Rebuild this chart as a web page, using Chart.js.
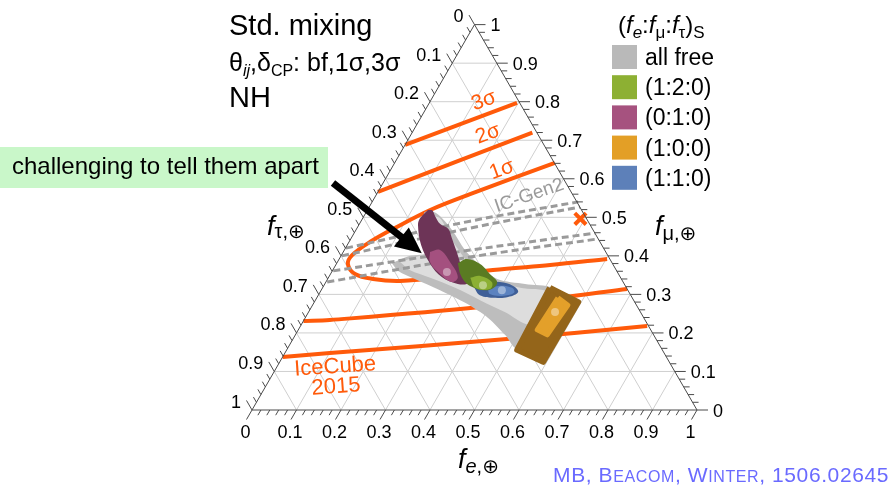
<!DOCTYPE html>
<html>
<head>
<meta charset="utf-8">
<script src="https://cdn.jsdelivr.net/npm/chart.js@4.4.0/dist/chart.umd.min.js"></script>
<style>
  html, body { margin: 0; padding: 0; background: #fff; }
  #wrap { width: 892px; height: 486px; }
</style>
</head>
<body>
<div id="wrap"><canvas id="ternary" width="892" height="486"></canvas></div>
<script>
// every point is [f_e, f_mu]; f_tau = 1 - f_e - f_mu
const tickValues = [0, 0.1, 0.2, 0.3, 0.4, 0.5, 0.6, 0.7, 0.8, 0.9, 1];
const tickLabels = ['0', '0.1', '0.2', '0.3', '0.4', '0.5', '0.6', '0.7', '0.8', '0.9', '1'];

// IceCube 2015 contours
const ic1Sigma = [[0.36, 0.641], [0.21, 0.56], [0.141, 0.519], [0.088, 0.475], [0.047, 0.436], [0.024, 0.402],
  [0.026, 0.379], [0.055, 0.353], [0.102, 0.34], [0.165, 0.335], [0.26, 0.345], [0.36, 0.363], [0.482, 0.376], [0.602, 0.392]];
const ic2SigmaUpper = [[0, 0.566], [0.27, 0.72]];
const ic2SigmaLower = [[0, 0.231], [0.058, 0.2335], [0.379, 0.267], [0.686, 0.314]];
const ic3SigmaUpper = [[0, 0.688], [0.197, 0.797]];
const ic3SigmaLower = [[0, 0.1375], [0.101, 0.148], [0.481, 0.184], [0.779, 0.218]];

// IceCube-Gen2 projection (dashed)
const gen2UpperA = [[0.001, 0.42], [0.245, 0.49], [0.463, 0.54]];
const gen2UpperB = [[0.002, 0.4], [0.254, 0.472], [0.474, 0.527]];
const gen2LowerA = [[0.002, 0.361], [0.283, 0.415], [0.541, 0.459]];
const gen2LowerB = [[0.003, 0.332], [0.292, 0.397], [0.556, 0.444]];

// flavour regions at Earth (outer = 3 sigma, inner = 1 sigma)
const allFreeOuter = [[0.124, 0.381], [0.155, 0.4], [0.19, 0.41], [0.131, 0.511], [0.158, 0.511], [0.216, 0.467],
  [0.271, 0.415], [0.326, 0.374], [0.381, 0.34], [0.45, 0.327], [0.516, 0.317], [0.538, 0.285], [0.556, 0.182],
  [0.52, 0.156], [0.471, 0.195], [0.411, 0.239], [0.34, 0.278], [0.267, 0.311], [0.196, 0.34], [0.148, 0.361]];
const allFreeInner = [[0.141, 0.384], [0.178, 0.4], [0.201, 0.407], [0.151, 0.498], [0.173, 0.498], [0.229, 0.441],
  [0.293, 0.384], [0.351, 0.345], [0.444, 0.317], [0.512, 0.306], [0.529, 0.26], [0.514, 0.221], [0.441, 0.254],
  [0.37, 0.285], [0.298, 0.317], [0.229, 0.343], [0.173, 0.363]];
const mu010Outer = [[0.136, 0.519], [0.129, 0.498], [0.133, 0.48], [0.166, 0.428], [0.211, 0.379], [0.254, 0.345],
  [0.299, 0.327], [0.321, 0.33], [0.288, 0.368], [0.251, 0.415], [0.226, 0.446], [0.206, 0.47], [0.181, 0.483],
  [0.16, 0.503], [0.146, 0.518]];
const mu010Inner = [[0.195, 0.41], [0.215, 0.415], [0.253, 0.384], [0.29, 0.345], [0.283, 0.332], [0.239, 0.358], [0.208, 0.384]];
const pion120Outer = [[0.272, 0.381], [0.287, 0.392], [0.323, 0.379], [0.358, 0.353], [0.386, 0.33], [0.375, 0.311], [0.329, 0.322], [0.296, 0.348]];
const pion120Inner = [[0.319, 0.343], [0.339, 0.348], [0.373, 0.332], [0.378, 0.314], [0.343, 0.317]];
const mixed110Outer = [[0.341, 0.317], [0.359, 0.33], [0.391, 0.332], [0.426, 0.322], [0.445, 0.306], [0.429, 0.293], [0.401, 0.291], [0.363, 0.298]];
const mixed110Inner = [[0.375, 0.311], [0.392, 0.322], [0.426, 0.317], [0.437, 0.304], [0.414, 0.296], [0.384, 0.301]];
const neutron100Outer = [[0.511, 0.317], [0.593, 0.28], [0.592, 0.125], [0.518, 0.156]];
const neutron100Inner = [[0.542, 0.291], [0.574, 0.272], [0.566, 0.195], [0.537, 0.208]];

// best-fit points: (0:1:0), (1:2:0), (1:1:0), (1:0:0)
const bestFit = [[0.259, 0.358], [0.357, 0.324], [0.406, 0.311], [0.554, 0.254]];
const marker010 = [[0.49, 0.496]];

const legendNames = ['all free', '(1:2:0)', '(0:1:0)', '(1:0:0)', '(1:1:0)'];
const legendColors = ['#b9b9b9', '#8db033', '#a6527f', '#e39f26', '#5d80b9'];

const ORANGE = '#ff5a0a';
const FONT = "'Liberation Sans', Arial, 'DejaVu Sans', sans-serif";
const SQ3 = Math.sqrt(3) / 2;

function toXY(p) { return { x: p[0] + p[1] / 2, y: p[1] * SQ3 }; }

function curve(pts, color, width, dash) {
    return {
        data: pts.map(toXY), showLine: true, borderColor: color, borderWidth: width,
        borderDash: dash || [], pointRadius: 0, fill: false, tension: 0.35, borderCapStyle: 'butt'
    };
}

function area(pts, color, tension, edge) {
    return {
        data: pts.concat([pts[0]]).map(toXY), showLine: true, borderColor: color, borderWidth: edge || 0,
        borderJoinStyle: 'round', backgroundColor: color, pointRadius: 0, fill: 'shape', tension: tension
    };
}

// back to front
const datasets = [
    curve(ic1Sigma, ORANGE, 4),
    curve(ic2SigmaUpper, ORANGE, 4), curve(ic2SigmaLower, ORANGE, 4),
    curve(ic3SigmaUpper, ORANGE, 4), curve(ic3SigmaLower, ORANGE, 4),
    area(allFreeOuter, '#bdbdbd', 0.3),
    area(allFreeInner, '#dddddd', 0.3),
    curve(gen2UpperA, '#9a9a9a', 3, [7, 4]), curve(gen2UpperB, '#9a9a9a', 3, [7, 4]),
    curve(gen2LowerA, '#9a9a9a', 3, [7, 4]), curve(gen2LowerB, '#9a9a9a', 3, [7, 4]),
    area(mu010Outer, '#6d3457', 0.35),
    area(mu010Inner, '#a4507f', 0.4),
    area(mixed110Outer, '#3f5f97', 0.4),
    area(mixed110Inner, '#5b82bf', 0.4),
    area(pion120Outer, '#5a7b22', 0.4),
    area(pion120Inner, '#8cb033', 0.4),
    area(neutron100Outer, '#94651a', 0, 6),
    area(neutron100Inner, '#e3a02a', 0, 5),
    {
        data: bestFit.map(toXY), showLine: false, pointRadius: 4, borderWidth: 0,
        pointBackgroundColor: 'rgba(255,255,255,0.4)'
    },
    {
        data: marker010.map(toXY), showLine: false, pointStyle: 'crossRot', pointRadius: 8,
        pointBorderWidth: 4, pointBorderColor: ORANGE
    }
];
datasets.forEach(function (d, i) { d.order = datasets.length - i; });

function richText(ctx, x, y, parts) {
    parts.forEach(function (p) {
        ctx.font = p[1];
        ctx.fillText(p[0], x, y + (p[2] || 0));
        x += ctx.measureText(p[0]).width;
    });
    return x;
}

function partsWidth(ctx, parts) {
    let w = 0;
    parts.forEach(function (p) { ctx.font = p[1]; w += ctx.measureText(p[0]).width; });
    return w;
}

const ternaryFrame = {
    id: 'ternaryFrame',
    beforeDatasetsDraw(chart) {
        const ctx = chart.ctx;
        const px = (fe, fmu) => [chart.scales.x.getPixelForValue(fe + fmu / 2), chart.scales.y.getPixelForValue(fmu * SQ3)];
        ctx.save();
        ctx.strokeStyle = '#cfcfcf';
        ctx.lineWidth = 1;
        tickValues.slice(1, -1).forEach(function (v) {
            [[px(0, v), px(1 - v, v)], [px(v, 0), px(v, 1 - v)], [px(1 - v, 0), px(0, 1 - v)]].forEach(function (s) {
                ctx.beginPath();
                ctx.moveTo(s[0][0], s[0][1]);
                ctx.lineTo(s[1][0], s[1][1]);
                ctx.stroke();
            });
        });
        ctx.restore();
    },
    afterDatasetsDraw(chart) {
        const ctx = chart.ctx;
        const px = (fe, fmu) => [chart.scales.x.getPixelForValue(fe + fmu / 2), chart.scales.y.getPixelForValue(fmu * SQ3)];
        ctx.save();

        // triangle and ticks
        ctx.strokeStyle = '#4a4a4a';
        ctx.lineWidth = 1;
        const a = px(0, 0), b = px(1, 0), c = px(0, 1);
        ctx.beginPath();
        ctx.moveTo(a[0], a[1]); ctx.lineTo(b[0], b[1]); ctx.lineTo(c[0], c[1]); ctx.closePath();
        ctx.stroke();
        for (let i = 0; i <= 50; i++) {
            const v = i / 50;
            const len = i % 5 === 0 ? 11 : 6;
            const ticks = [
                [px(v, 0), -0.5, SQ3],
                [px(1 - v, v), 1, 0],
                [px(0, 1 - v), -0.5, -SQ3]
            ];
            ticks.forEach(function (t) {
                ctx.beginPath();
                ctx.moveTo(t[0][0], t[0][1]);
                ctx.lineTo(t[0][0] + t[1] * len, t[0][1] + t[2] * len);
                ctx.stroke();
            });
        }

        ctx.fillStyle = '#000';
        ctx.font = '18px ' + FONT;
        tickValues.forEach(function (v, i) {
            const pb = px(v, 0);
            ctx.textAlign = 'center';
            ctx.fillText(tickLabels[i], pb[0] - 6.5, pb[1] + 28);
            const pr = px(1 - v, v);
            ctx.textAlign = 'left';
            ctx.fillText(tickLabels[i], pr[0] + 16, pr[1] + 6.5);
            const pl = px(0, 1 - v);
            ctx.textAlign = 'right';
            ctx.fillText(tickLabels[i], pl[0] - 11, pl[1] - 2.5);
        });
        ctx.textAlign = 'left';

        // axis titles
        const ital = 'italic 27px ' + FONT;
        richText(ctx, 458, 468, [['f', ital], ['e', 'italic 20px ' + FONT, 5], [',\u2295', '20px ' + FONT, 5]]);
        richText(ctx, 655, 235, [['f', ital], ['\u03bc,\u2295', '20px ' + FONT, 5]]);
        richText(ctx, 267, 235, [['f', ital], ['\u03c4,\u2295', '20px ' + FONT, 3]]);

        // title block
        ctx.font = '29px ' + FONT;
        ctx.fillText('Std. mixing', 229, 35);
        ctx.fillText('NH', 229, 107);
        richText(ctx, 229, 71, [['\u03b8', '25px ' + FONT], ['ij', 'italic 16px ' + FONT, 5], [',\u03b4', '25px ' + FONT],
            ['CP', '16px ' + FONT, 5], [': bf,1\u03c3,3\u03c3', '25px ' + FONT]]);

        // legend
        richText(ctx, 618, 33, [['(', '24px ' + FONT], ['f', 'italic 24px ' + FONT], ['e', 'italic 17px ' + FONT, 5],
            [':', '24px ' + FONT], ['f', 'italic 24px ' + FONT], ['\u03bc', '17px ' + FONT, 5], [':', '24px ' + FONT],
            ['f', 'italic 24px ' + FONT], ['\u03c4', '17px ' + FONT, 5], [')', '24px ' + FONT], ['S', '17px ' + FONT, 5]]);
        legendNames.forEach(function (name, i) {
            const top = 45 + i * 30.2;
            ctx.fillStyle = legendColors[i];
            ctx.fillRect(612, top, 25, 24);
            ctx.fillStyle = '#000';
            ctx.font = '23px ' + FONT;
            ctx.fillText(name, 645, top + 20);
        });

        // contour labels
        const rotated = function (text, pos, deg, font, color) {
            const p = px(pos[0], pos[1]);
            ctx.save();
            ctx.translate(p[0], p[1]);
            ctx.rotate(deg * Math.PI / 180);
            ctx.font = font;
            ctx.fillStyle = color;
            ctx.textAlign = 'center';
            ctx.textBaseline = 'middle';
            ctx.fillText(text, 0, 0);
            ctx.restore();
        };
        rotated('3\u03c3', [0.12, 0.802], -20, '21px ' + FONT, ORANGE);
        rotated('2\u03c3', [0.172, 0.716], -20, '21px ' + FONT, ORANGE);
        rotated('1\u03c3', [0.25, 0.623], -20, '21px ' + FONT, ORANGE);
        rotated('IC-Gen2', [0.345, 0.556], -19, '19px ' + FONT, '#9a9a9a');
        rotated('IceCube', [0.131, 0.112], -4, '22px ' + FONT, ORANGE);
        rotated('2015', [0.159, 0.06], -4, '22px ' + FONT, ORANGE);

        // callout box and arrow
        ctx.fillStyle = '#c9f7c9';
        ctx.fillRect(0, 147, 328, 41);
        ctx.fillStyle = '#000';
        ctx.font = '24px ' + FONT;
        ctx.fillText('challenging to tell them apart', 12, 174);
        const s = px(-0.1125, 0.589), e = px(0.178, 0.407);
        const ang = Math.atan2(e[1] - s[1], e[0] - s[0]);
        const ux = Math.cos(ang), uy = Math.sin(ang);
        ctx.strokeStyle = '#000';
        ctx.lineWidth = 7;
        ctx.beginPath();
        ctx.moveTo(s[0], s[1]);
        ctx.lineTo(e[0] - ux * 20, e[1] - uy * 20);
        ctx.stroke();
        ctx.beginPath();
        ctx.moveTo(e[0], e[1]);
        ctx.lineTo(e[0] - ux * 26 - uy * 12, e[1] - uy * 26 + ux * 12);
        ctx.lineTo(e[0] - ux * 26 + uy * 12, e[1] - uy * 26 - ux * 12);
        ctx.closePath();
        ctx.fill();

        // credit
        const cf = 21, sc = 16;
        const credit = [['MB, B', cf + 'px ' + FONT], ['EACOM', sc + 'px ' + FONT], [', W', cf + 'px ' + FONT],
            ['INTER', sc + 'px ' + FONT], [', 1506.02645', cf + 'px ' + FONT]];
        ctx.fillStyle = '#6a6aff';
        ctx.letterSpacing = '0.6px';
        richText(ctx, 889 - partsWidth(ctx, credit), 482, credit);
        ctx.restore();
    }
};

new Chart(document.getElementById('ternary'), {
    type: 'scatter',
    data: { datasets: datasets },
    options: {
        responsive: false,
        animation: false,
        events: [],
        layout: { padding: 0, autoPadding: false },
        plugins: { legend: { display: false }, tooltip: { enabled: false } },
        scales: {
            x: { display: false, min: -252 / 445, max: 640 / 445 },
            y: { display: false, min: -76 / 445, max: 410 / 445 }
        }
    },
    plugins: [ternaryFrame]
});
</script>
</body>
</html>
